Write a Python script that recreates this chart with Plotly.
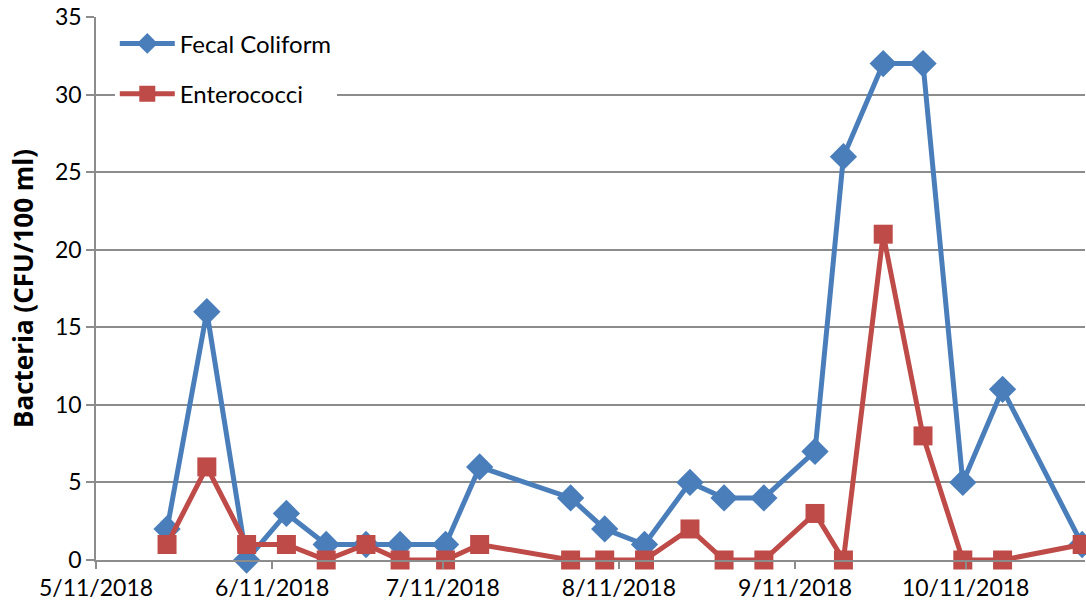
import plotly.graph_objects as go

dates = ["2018-05-23", "2018-05-30", "2018-06-06", "2018-06-13", "2018-06-20", "2018-06-27",
         "2018-07-03", "2018-07-11", "2018-07-17", "2018-08-02", "2018-08-08", "2018-08-15",
         "2018-08-23", "2018-08-29", "2018-09-05", "2018-09-14", "2018-09-19", "2018-09-26",
         "2018-10-03", "2018-10-10", "2018-10-17", "2018-10-31"]
fecal_coliform = [2, 16, 0, 3, 1, 1, 1, 1, 6, 4, 2, 1, 5, 4, 4, 7, 26, 32, 32, 5, 11, 1]
enterococci = [1, 6, 1, 1, 0, 1, 0, 0, 1, 0, 0, 0, 2, 0, 0, 3, 0, 21, 8, 0, 0, 1]

x_tick_vals = ["2018-05-11", "2018-06-11", "2018-07-11", "2018-08-11", "2018-09-11", "2018-10-11"]
x_tick_text = ["5/11/2018", "6/11/2018", "7/11/2018", "8/11/2018", "9/11/2018", "10/11/2018"]
x_range = ["2018-05-11", "2018-11-01"]
y_ticks = [0, 5, 10, 15, 20, 25, 30, 35]

# Excel draws date-axis points at the middle of each day
plot_dates = [d + " 12:00" for d in dates]

FONT = "Lato, Open Sans, sans-serif"
TITLE_FONT = "Open Sans, Lato, sans-serif"
GRID = "#8c8c8c"

fig = go.Figure()
fig.add_trace(go.Scatter(
    x=plot_dates, y=fecal_coliform, name="Fecal Coliform", mode="lines+markers",
    legendgroup="a",
    line=dict(color="#4A7EBB", width=5),
    marker=dict(symbol="diamond", size=21, color="#4A7EBB"),
    cliponaxis=False,
))
fig.add_trace(go.Scatter(
    x=plot_dates, y=enterococci, name="Enterococci", mode="lines+markers",
    legendgroup="b",
    line=dict(color="#BE4B48", width=5),
    marker=dict(symbol="square", size=19, color="#BE4B48"),
    cliponaxis=False,
))

fig.update_layout(
    width=1086, height=611,
    margin=dict(l=96, r=1, t=17, b=51, autoexpand=False),
    paper_bgcolor="white", plot_bgcolor="white",
    font=dict(family=FONT, size=23, color="#000000"),
    showlegend=True,
    legend=dict(
        x=0.019, y=0.992, xanchor="left", yanchor="top",
        bgcolor="white", borderwidth=0,
        font=dict(family=FONT, size=24, color="#000000"),
        itemwidth=55, tracegroupgap=16,
    ),
    xaxis=dict(
        type="date", range=x_range, automargin=False,
        tickmode="array", tickvals=x_tick_vals, ticktext=x_tick_text,
        showgrid=False, zeroline=False,
        showline=True, linecolor=GRID, linewidth=1.5,
        ticks="outside", ticklen=7, tickcolor=GRID, tickwidth=1.5,
        tickfont=dict(family=FONT, size=23, color="#000000"),
        ticklabeloverflow="allow",
    ),
    yaxis=dict(
        range=[0, 35], tickmode="array", tickvals=y_ticks, automargin=False,
        showgrid=True, gridcolor=GRID, gridwidth=1.5,
        zeroline=False,
        showline=True, linecolor=GRID, linewidth=1.5,
        ticks="outside", ticklen=8, tickcolor=GRID, tickwidth=1.5,
        tickfont=dict(family=FONT, size=23, color="#000000"),
        ticklabeloverflow="allow",
        title=dict(text="<b>Bacteria (CFU/100 ml)</b>", font=dict(family=TITLE_FONT, size=26, color="#000000"), standoff=14),
    ),
)

fig.write_html("out.html", config={"displayModeBar": False},
               post_script="document.body.style.margin='0px';")
